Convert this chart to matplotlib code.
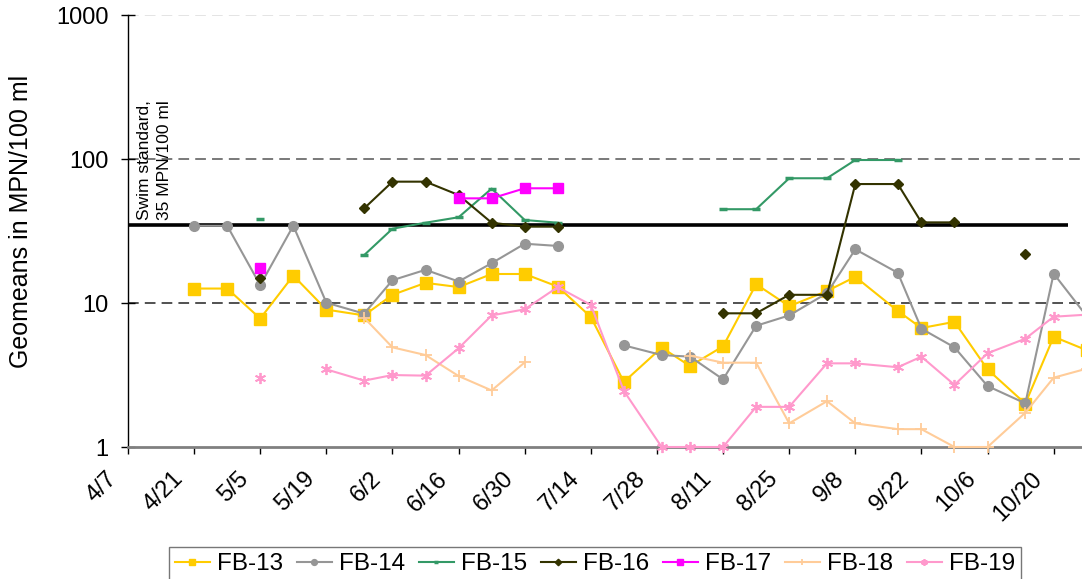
import numpy as np
import matplotlib
matplotlib.use("Agg")
import matplotlib.pyplot as plt
from matplotlib.ticker import NullLocator
from matplotlib.transforms import ScaledTranslation

plt.rcParams['font.family'] = ['Liberation Sans', 'DejaVu Sans']

nan = np.nan
sample_dates = ['2008-04-21', '2008-04-28', '2008-05-05', '2008-05-12', '2008-05-19',
                '2008-05-27', '2008-06-02', '2008-06-09', '2008-06-16', '2008-06-23',
                '2008-06-30', '2008-07-07', '2008-07-14', '2008-07-21', '2008-07-29',
                '2008-08-04', '2008-08-11', '2008-08-18', '2008-08-25', '2008-09-02',
                '2008-09-08', '2008-09-17', '2008-09-22', '2008-09-29', '2008-10-06',
                '2008-10-14', '2008-10-20', '2008-10-27']

fb13 = [12.6, 12.6, 7.8, 15.5, 9.0, 8.2, 11.4, 13.8, 12.9, 15.9, 15.9, 13.0, 8.0, 2.83,
        4.9, 3.65, 5.0, 13.5, 9.5, 12.1, 15.2, 8.8, 6.7, 7.4, 3.46, 2.0, 5.83, 4.7]
fb14 = [34.4, 34.4, 13.3, 34.4, 10.05, 8.43, 14.4, 17.0, 14.1, 18.9, 25.8, 24.9, nan, 5.08,
        4.35, 4.24, 2.95, 6.95, 8.2, 11.7, 23.6, 16.2, 6.63, 4.92, 2.65, 2.01, 16.0, 8.1]
fb15 = [nan, nan, 38.5, nan, nan, 21.5, 32.8, 36.1, 39.4, 62.3, 37.7, 36.1, nan, nan,
        nan, nan, 44.8, 44.8, 73.5, 73.5, 98.4, 98.4, nan, nan, nan, nan, nan, nan]
fb16 = [nan, nan, 14.8, nan, nan, 45.4, 69.6, 69.6, 56.2, 36.1, 33.9, 33.9, nan, nan,
        nan, nan, 8.48, 8.48, 11.4, 11.4, 67.0, 67.0, 36.3, 36.3, nan, 22.0, nan, nan]
fb17 = [nan, nan, 17.4, nan, nan, nan, nan, nan, 53.3, 53.3, 62.6, 62.6, nan, nan,
        nan, nan, nan, nan, nan, nan, nan, nan, nan, nan, nan, nan, nan, nan]
fb18 = [nan, nan, nan, nan, nan, 7.9, 4.92, 4.35, 3.11, 2.47, 3.87, nan, nan, nan,
        nan, 4.31, 3.85, 3.85, 1.46, 2.08, 1.46, 1.33, 1.33, 1.0, 1.0, 1.73, 3.03, 3.5]
fb19 = [nan, nan, 3.0, nan, 3.46, 2.89, 3.16, 3.13, 4.85, 8.2, 9.04, 12.9, 9.7, 2.45,
        1.0, 1.0, 1.0, 1.9, 1.9, 3.81, 3.81, 3.58, 4.24, 2.7, 4.48, 5.65, 8.03, 8.3]

series_names = ['FB-13', 'FB-14', 'FB-15', 'FB-16', 'FB-17', 'FB-18', 'FB-19']

std_dates = ['2008-04-07', '2008-10-23']
std_values = [35, 35]

tick_dates = ['2008-04-07', '2008-04-21', '2008-05-05', '2008-05-19', '2008-06-02',
              '2008-06-16', '2008-06-30', '2008-07-14', '2008-07-28', '2008-08-11',
              '2008-08-25', '2008-09-08', '2008-09-22', '2008-10-06', '2008-10-20']
tick_labels = ['4/7', '4/21', '5/5', '5/19', '6/2', '6/16', '6/30', '7/14', '7/28',
               '8/11', '8/25', '9/8', '9/22', '10/6', '10/20']

styles = [
    dict(color='#FFCC00', marker='s', ms=8, mec='#FFCC00', mfc='#FFCC00'),
    dict(color='#969696', marker='o', ms=7, mec='#969696', mfc='#969696'),
    dict(color='#339966', marker='_', ms=6, mew=2.5),
    dict(color='#333300', marker='D', ms=5.5, mec='#333300', mfc='#333300'),
    dict(color='#FF00FF', marker='s', ms=7, mec='#FF00FF', mfc='#FF00FF'),
    dict(color='#FFCC99', marker='+', ms=8, mew=1.3),
    dict(color='#FF99CC', marker=(6, 2, 0), ms=8, mew=1.3),
]

fig = plt.figure(figsize=(10.82, 5.79), dpi=100)
ax = fig.add_axes([128 / 1082, 1 - 447 / 579, 954 / 1082, 432 / 579])

x = np.array(sample_dates, dtype='datetime64[D]')

ax.axhline(10, color='#222222', lw=1.1, ls=(0, (7, 4)), zorder=1)
ax.axhline(100, color='#555555', lw=1.1, ls=(0, (7, 4)), zorder=1)
ax.axhline(1000, color='#dddddd', lw=1.1, ls=(0, (7, 4)), zorder=1)

ax.plot(np.array(std_dates, dtype='datetime64[D]'), std_values, color='black', lw=2.6,
        zorder=2, solid_capstyle='butt')

handles = []
for name, vals, st in zip(series_names, [fb13, fb14, fb15, fb16, fb17, fb18, fb19], styles):
    h, = ax.plot(x, vals, lw=1.5, label=name, clip_on=False, zorder=3, **st)
    handles.append(h)

ax.text(np.datetime64('2008-04-09'), 37.7, 'Swim standard,\n35 MPN/100 ml', rotation=90,
        ha='left', va='bottom', fontsize=12.5, multialignment='left', linespacing=1.4)

ax.set_yscale('log')
ax.set_ylim(1, 1000)
ax.set_yticks([1, 10, 100, 1000])
ax.set_yticklabels(['1', '10', '100', '1000'])
ax.yaxis.set_minor_locator(NullLocator())
ax.set_xlim(np.datetime64('2008-04-07'), np.datetime64('2008-10-26'))
ax.set_xticks(np.array(tick_dates, dtype='datetime64[D]'))
ax.set_xticklabels(tick_labels)

for s in ['top', 'right']:
    ax.spines[s].set_visible(False)
ax.spines['left'].set_color('black')
ax.spines['left'].set_linewidth(1.0)
ax.spines['bottom'].set_color('#808080')
ax.spines['bottom'].set_linewidth(2.0)

ax.tick_params(axis='y', direction='inout', length=10, width=1, labelsize=17, pad=9)
ax.tick_params(axis='x', direction='out', length=5, width=1, labelsize=17, pad=10)

offset = ScaledTranslation(-7 / 100, 0, fig.dpi_scale_trans)
for lab in ax.get_xticklabels():
    lab.set_rotation(45)
    lab.set_ha('right')
    lab.set_va('top')
    lab.set_transform(lab.get_transform() + offset)

fig.text(21 / 1082, 1 - 221 / 579, 'Geomeans in MPN/100 ml', rotation=90, ha='center',
         va='center', fontsize=18)

leg = fig.legend(handles=handles, loc='upper center', bbox_to_anchor=(595 / 1082, 1 - 547 / 579),
                 ncol=7, fontsize=17.5, frameon=True, fancybox=False, edgecolor='#555555',
                 handlelength=1.45, handletextpad=0.3, columnspacing=0.55, borderpad=0.25,
                 borderaxespad=0, markerscale=0.6)
leg.get_frame().set_linewidth(1.0)

fig.savefig('out.png', dpi=100)
